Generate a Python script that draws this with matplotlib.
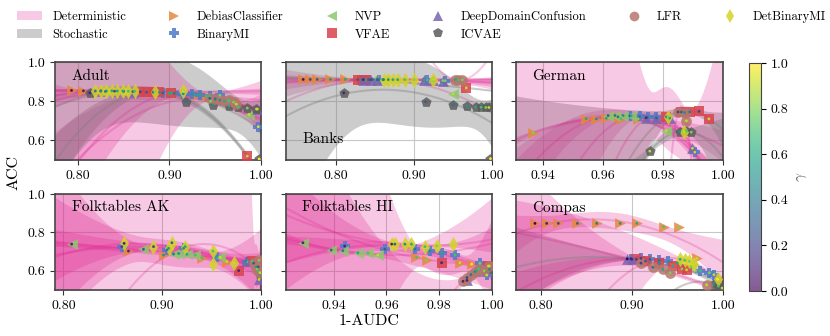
import numpy as np
import matplotlib
matplotlib.use("Agg")
import matplotlib.pyplot as plt
from matplotlib.lines import Line2D
from matplotlib.patches import Patch
from matplotlib.colors import ListedColormap
from matplotlib.cm import ScalarMappable
from matplotlib.colors import Normalize

plt.rcParams.update({
    "font.family": "cmr10",
    "mathtext.fontset": "cm",
    "axes.unicode_minus": False,
    "axes.formatter.use_mathtext": True,
})

# ---------------- data (x = 1-AUDC, y = ACC, g = gamma) ----------------
methods = ["DebiasClassifier", "BinaryMI", "NVP", "VFAE",
           "DeepDomainConfusion", "ICVAE", "LFR", "DetBinaryMI"]

adult = {
    "DebiasClassifier": ([0.793, 0.806, 0.930, 0.940], [0.855, 0.853, 0.830, 0.826], [0.05, 0.1, 0.6, 0.7]),
    "BinaryMI": ([0.893, 0.905, 0.915, 0.925, 0.933, 0.944, 0.955, 0.997],
                 [0.842, 0.840, 0.838, 0.836, 0.830, 0.825, 0.830, 0.670], [0.3, 0.4, 0.5, 0.55, 0.6, 0.7, 0.8, 0.95]),
    "NVP": ([0.830, 0.850, 0.900, 0.945, 0.987], [0.850, 0.850, 0.840, 0.800, 0.732], [0.3, 0.4, 0.6, 0.8, 0.9]),
    "VFAE": ([0.868, 0.875, 0.882, 0.889, 0.902, 0.985], [0.848, 0.846, 0.846, 0.845, 0.842, 0.520], [0.2, 0.3, 0.4, 0.5, 0.6, 0.9]),
    "DeepDomainConfusion": ([0.825, 0.840, 0.860, 0.950, 0.965, 0.996], [0.852, 0.851, 0.849, 0.810, 0.800, 0.760], [0.1, 0.2, 0.3, 0.5, 0.7, 0.9]),
    "ICVAE": ([0.813, 0.918, 0.947, 0.965, 0.975, 0.985, 0.995, 0.998],
              [0.843, 0.797, 0.780, 0.775, 0.770, 0.765, 0.760, 0.505], [0.1, 0.4, 0.5, 0.6, 0.7, 0.8, 0.9, 1.0]),
    "LFR": ([0.944, 0.950, 0.955, 0.960, 0.965, 0.970, 0.973], [0.815, 0.812, 0.805, 0.800, 0.805, 0.795, 0.785], [0.3, 0.4, 0.5, 0.6, 0.7, 0.8, 0.9]),
    "DetBinaryMI": ([0.819, 0.825, 0.831, 0.837, 0.843, 0.849, 0.855, 0.862, 0.884, 0.915],
                    [0.852, 0.853, 0.852, 0.853, 0.852, 0.852, 0.851, 0.851, 0.848, 0.850], [0.4, 0.5, 0.5, 0.6, 0.6, 0.6, 0.7, 0.7, 0.8, 0.9]),
}

banks = {
    "DebiasClassifier": ([0.758, 0.767, 0.776, 0.793, 0.812], [0.911, 0.911, 0.911, 0.911, 0.911], [0.05, 0.2, 0.3, 0.5, 0.6]),
    "BinaryMI": ([0.842, 0.855, 0.917, 0.940], [0.910, 0.910, 0.908, 0.905], [0.3, 0.4, 0.7, 0.8]),
    "NVP": ([0.848, 0.860, 0.950], [0.910, 0.910, 0.837], [0.4, 0.5, 0.9]),
    "VFAE": ([0.828, 0.833, 0.838, 0.967], [0.910, 0.909, 0.908, 0.868], [0.3, 0.5, 0.6, 0.9]),
    "DeepDomainConfusion": ([0.835, 0.845, 0.853, 0.913, 0.925, 0.937], [0.910, 0.910, 0.909, 0.908, 0.908, 0.905], [0.1, 0.2, 0.3, 0.6, 0.7, 0.8]),
    "ICVAE": ([0.810, 0.915, 0.950, 0.968, 0.979, 0.986, 0.992, 0.996, 0.998],
              [0.843, 0.797, 0.780, 0.773, 0.770, 0.769, 0.768, 0.768, 0.507], [0.1, 0.3, 0.4, 0.5, 0.6, 0.7, 0.8, 0.9, 1.0]),
    "LFR": ([0.953, 0.957, 0.962], [0.910, 0.908, 0.909], [0.6, 0.7, 0.8]),
    "DetBinaryMI": ([0.861, 0.867, 0.873, 0.879, 0.888, 0.900, 0.925], [0.910, 0.910, 0.910, 0.910, 0.910, 0.910, 0.910], [0.4, 0.5, 0.6, 0.6, 0.7, 0.8, 0.9]),
}

german = {
    "DebiasClassifier": ([0.9367, 0.9544, 0.9578, 0.9611, 0.9650, 0.9660, 0.9717], [0.638, 0.711, 0.710, 0.713, 0.720, 0.710, 0.710], [0.8, 0.6, 0.5, 0.6, 0.4, 0.7, 0.8]),
    "BinaryMI": ([0.9689, 0.9722, 0.9750, 0.9778, 0.9906], [0.725, 0.722, 0.720, 0.718, 0.540], [0.3, 0.4, 0.5, 0.6, 0.9]),
    "NVP": ([0.9617, 0.9640, 0.9667, 0.9694, 0.9811], [0.727, 0.727, 0.727, 0.725, 0.650], [0.3, 0.4, 0.5, 0.6, 0.9]),
    "VFAE": ([0.9811, 0.9861, 0.9889, 0.9920, 0.9953], [0.720, 0.745, 0.745, 0.748, 0.710], [0.5, 0.3, 0.4, 0.2, 0.9]),
    "DeepDomainConfusion": ([0.9744, 0.9778, 0.9822, 0.9898], [0.716, 0.715, 0.714, 0.560], [0.1, 0.3, 0.5, 0.9]),
    "ICVAE": ([0.9756, 0.9856, 0.9878, 0.9894], [0.545, 0.645, 0.648, 0.642], [0.9, 0.5, 0.7, 0.8]),
    "LFR": ([0.9850, 0.9872, 0.9878], [0.745, 0.742, 0.700], [0.2, 0.5, 0.9]),
    "DetBinaryMI": ([0.9817, 0.9870], [0.720, 0.645], [0.8, 0.9]),
}

folk_ak = {
    "DebiasClassifier": ([0.8659, 0.9014, 0.9402, 0.9655], [0.703, 0.682, 0.668, 0.648], [0.1, 0.5, 0.7, 0.9]),
    "BinaryMI": ([0.8591, 0.9047, 0.9216, 0.9554, 0.9858, 0.9959], [0.726, 0.708, 0.717, 0.674, 0.648, 0.613], [0.2, 0.4, 0.5, 0.6, 0.8, 0.9]),
    "NVP": ([0.8084, 0.8810, 0.9115, 0.9166, 0.9250, 0.9334, 0.9588], [0.739, 0.712, 0.687, 0.690, 0.686, 0.682, 0.670], [0.1, 0.3, 0.4, 0.5, 0.6, 0.7, 0.9]),
    "VFAE": ([0.9774, 0.9909], [0.601, 0.649], [0.1, 0.7]),
    "DeepDomainConfusion": ([0.9850, 0.9980], [0.650, 0.555], [0.5, 0.9]),
    "ICVAE": ([0.9970, 0.9990], [0.620, 0.580], [0.2, 0.6]),
    "LFR": ([0.9926, 0.9953, 0.9970, 0.9980, 0.9990], [0.640, 0.620, 0.600, 0.655, 0.590], [0.3, 0.5, 0.7, 0.8, 0.9]),
    "DetBinaryMI": ([0.8615, 0.8912, 0.9064, 0.9098, 0.9233, 0.9514, 0.9514, 0.9723],
                    [0.743, 0.726, 0.717, 0.746, 0.726, 0.703, 0.634, 0.642], [0.1, 0.2, 0.5, 0.3, 0.6, 0.7, 0.9, 0.9]),
}

folk_hi = {
    "DebiasClassifier": ([0.9714, 0.9752, 0.9878, 0.9923], [0.670, 0.656, 0.642, 0.635], [0.7, 0.8, 0.9, 1.0]),
    "BinaryMI": ([0.9442, 0.9594, 0.9708, 0.9765, 0.9809, 0.9860, 0.9954, 0.9980],
                 [0.729, 0.713, 0.713, 0.703, 0.691, 0.682, 0.639, 0.578], [0.1, 0.3, 0.4, 0.5, 0.6, 0.7, 0.8, 0.9]),
    "NVP": ([0.9284, 0.9391, 0.9435, 0.9492, 0.9530, 0.9568], [0.746, 0.708, 0.705, 0.694, 0.693, 0.681], [0.1, 0.3, 0.4, 0.6, 0.7, 0.9]),
    "VFAE": ([0.9809, 0.9986], [0.642, 0.625], [0.1, 0.9]),
    "DeepDomainConfusion": ([0.9905, 0.9940], [0.550, 0.600], [0.1, 0.6]),
    "ICVAE": ([0.9990], [0.610], [0.5]),
    "LFR": ([0.9890, 0.9905, 0.9920, 0.9935, 0.9950, 0.9970, 0.9990], [0.545, 0.565, 0.580, 0.595, 0.610, 0.600, 0.625], [0.1, 0.2, 0.4, 0.5, 0.7, 0.8, 0.9]),
    "DetBinaryMI": ([0.9620, 0.9632, 0.9670, 0.9695, 0.9746, 0.9790, 0.9851], [0.739, 0.739, 0.739, 0.739, 0.726, 0.729, 0.738], [0.1, 0.3, 0.5, 0.6, 0.7, 0.8, 0.9]),
}

compas = {
    "DebiasClassifier": ([0.7938, 0.8066, 0.8194, 0.8403, 0.8615, 0.8872, 0.9055, 0.9348, 0.9513, 0.9714],
                         [0.847, 0.847, 0.847, 0.847, 0.847, 0.847, 0.847, 0.830, 0.828, 0.665], [0.0, 0.1, 0.2, 0.3, 0.4, 0.5, 0.6, 0.7, 0.8, 0.9]),
    "BinaryMI": ([0.899, 0.910, 0.920, 0.930, 0.940, 0.975, 0.985, 0.990], [0.663, 0.665, 0.660, 0.655, 0.650, 0.600, 0.590, 0.580], [0.1, 0.2, 0.3, 0.4, 0.5, 0.7, 0.8, 0.9]),
    "NVP": ([0.950, 0.965], [0.640, 0.620], [0.6, 0.8]),
    "VFAE": ([0.905, 0.915, 0.930, 0.945, 0.955, 0.960], [0.660, 0.650, 0.640, 0.625, 0.610, 0.605], [0.2, 0.3, 0.5, 0.6, 0.8, 0.9]),
    "DeepDomainConfusion": ([0.895, 0.900], [0.662, 0.660], [0.0, 0.1]),
    "ICVAE": ([0.990, 0.995, 0.999], [0.530, 0.520, 0.510], [0.5, 0.7, 0.9]),
    "LFR": ([0.910, 0.923, 0.934, 0.942, 0.982], [0.640, 0.618, 0.608, 0.590, 0.527], [0.2, 0.4, 0.6, 0.8, 0.9]),
    "DetBinaryMI": ([0.953, 0.958, 0.963, 0.968, 0.994], [0.660, 0.655, 0.650, 0.635, 0.556], [0.6, 0.7, 0.8, 0.9, 1.0]),
}

datasets = [("Adult", adult), ("Banks", banks), ("German", german),
            ("Folktables AK", folk_ak), ("Folktables HI", folk_hi), ("Compas", compas)]
xlims = [(0.775, 1.0), (0.736, 1.0), (0.931, 1.0), (0.7916, 1.0), (0.922, 1.0), (0.773, 1.0)]
xticks = [[0.80, 0.90, 1.00], [0.80, 0.90, 1.00], [0.94, 0.96, 0.98, 1.00],
          [0.80, 0.90, 1.00], [0.94, 0.96, 0.98, 1.00], [0.80, 0.90, 1.00]]
yticks = [0.6, 0.8, 1.0]

# ---------------- styles ----------------
markers = {"DebiasClassifier": ">", "BinaryMI": "P", "NVP": "<", "VFAE": "s",
           "DeepDomainConfusion": "^", "ICVAE": "p", "LFR": "o", "DetBinaryMI": "d"}
colors = {"DebiasClassifier": "#e5893f", "BinaryMI": "#4f7ac8", "NVP": "#8dc86d",
          "VFAE": "#d9434d", "DeepDomainConfusion": "#7a64b0", "ICVAE": "#5c5c5c",
          "LFR": "#b5776c", "DetBinaryMI": "#d5d22a"}
stochastic = {"VFAE", "ICVAE"}
DET_COL, DET_A = "#e0208f", 0.24
STO_COL, STO_A = "#808080", 0.40
T975 = {1: 12.71, 2: 4.30, 3: 3.18, 4: 2.78, 5: 2.57, 6: 2.45, 7: 2.36, 8: 2.31}

vir = plt.get_cmap("viridis")(np.linspace(0, 1, 256))
vir[:, :3] = vir[:, :3] * 0.65 + 0.35
cmap = ListedColormap(vir)


def band(ax, x, y, color, alpha, xlim):
    x = np.asarray(x, float)
    y = np.asarray(y, float)
    if len(x) < 3:
        return
    mu, sd = x.mean(), x.std()
    u = (x - mu) / sd
    X = np.vstack([np.ones_like(u), u, u ** 2]).T
    beta = np.linalg.lstsq(X, y, rcond=None)[0]
    grid = np.linspace(xlim[0], xlim[1], 300)
    ug = (grid - mu) / sd
    G = np.vstack([np.ones_like(ug), ug, ug ** 2]).T
    fit = G @ beta
    dof = len(x) - 3
    if dof > 0:
        r = y - X @ beta
        s2 = r @ r / dof
        cov = s2 * np.linalg.pinv(X.T @ X)
        se = np.sqrt(np.einsum("ij,jk,ik->i", G, cov, G))
        t = T975.get(dof, 2.2)
        ax.fill_between(grid, fit - t * se, fit + t * se, color=color,
                        alpha=alpha, lw=0, zorder=1)
    ax.plot(grid, fit, color=color, alpha=alpha, lw=1.5, zorder=1.5)


fig = plt.figure(figsize=(8.3, 3.36), dpi=100)
cols_l = [0.0663, 0.3446, 0.6217]
cols_w = [0.2482, 0.2482, 0.2494]
rows_b = [0.5238, 0.1369]
rows_h = [0.2917, 0.2857]

for i, (name, data) in enumerate(datasets):
    r, c = divmod(i, 3)
    ax = fig.add_axes([cols_l[c], rows_b[r], cols_w[c], rows_h[r]])
    xl = xlims[i]
    ax.set_xlim(*xl)
    ax.set_ylim(0.5, 1.0)
    for m in methods:
        x, y, g = data[m]
        if m in stochastic:
            band(ax, x, y, STO_COL, STO_A, xl)
        else:
            band(ax, x, y, DET_COL, DET_A, xl)
    for m in methods:
        x, y, g = data[m]
        ax.scatter(x, y, marker=markers[m], s=60, color=colors[m], alpha=0.85,
                   linewidths=0, zorder=3)
        ax.scatter(x, y, c=g, cmap="viridis", vmin=0, vmax=1, s=4,
                   linewidths=0, zorder=4)
    ax.set_xticks(xticks[i])
    ax.set_xticklabels(["%.2f" % t for t in xticks[i]])
    ax.set_yticks(yticks)
    if c == 0:
        ax.set_yticklabels(["%.1f" % t for t in yticks])
    else:
        ax.set_yticklabels([])
    ax.grid(True, color="#c8c8c8", lw=0.8, zorder=0)
    ax.set_axisbelow(True)
    ax.tick_params(labelsize=10, length=3.5, width=0.8, color="#333333")
    for s in ax.spines.values():
        s.set_color("#444444")
        s.set_linewidth(1.2)
    if name == "Banks":
        ax.text(0.08, 0.17, name, transform=ax.transAxes, fontsize=11,
                ha="left", va="baseline", zorder=5)
    else:
        ax.text(0.08, 0.93, name, transform=ax.transAxes, fontsize=11,
                ha="left", va="top", zorder=5)

fig.text(369 / 830, 1 - 321 / 336, "1-AUDC", ha="center", va="center", fontsize=11.5)
fig.text(14 / 830, 1 - 172 / 336, "ACC", ha="center", va="center", rotation=90, fontsize=11.5)

cax = fig.add_axes([0.9024, 0.1339, 0.0145, 0.6786])
cb = fig.colorbar(ScalarMappable(norm=Normalize(0, 1), cmap=cmap), cax=cax)
cb.set_ticks([0.0, 0.2, 0.4, 0.6, 0.8, 1.0])
cb.set_ticklabels(["0.0", "0.2", "0.4", "0.6", "0.8", "1.0"])
cb.ax.tick_params(labelsize=10, length=3.5)
cb.outline.set_edgecolor("#444444")
cb.set_label(r"$\gamma$", fontsize=11, color="#666666")

handles = [Patch(facecolor=DET_COL, alpha=DET_A, lw=0, label="Deterministic"),
           Patch(facecolor=STO_COL, alpha=STO_A, lw=0, label="Stochastic")]
for m in methods:
    handles.append(Line2D([], [], marker=markers[m], ls="none", color=colors[m],
                          markersize=7, alpha=0.85, markeredgewidth=0, label=m))
fig.legend(handles=handles, loc="upper left", bbox_to_anchor=(0.012, 0.99),
           ncol=6, frameon=False, fontsize=9, columnspacing=2.85,
           handlelength=2.0, handletextpad=0.8, labelspacing=0.45, borderaxespad=0.2)

fig.savefig("out.png", dpi=100)
